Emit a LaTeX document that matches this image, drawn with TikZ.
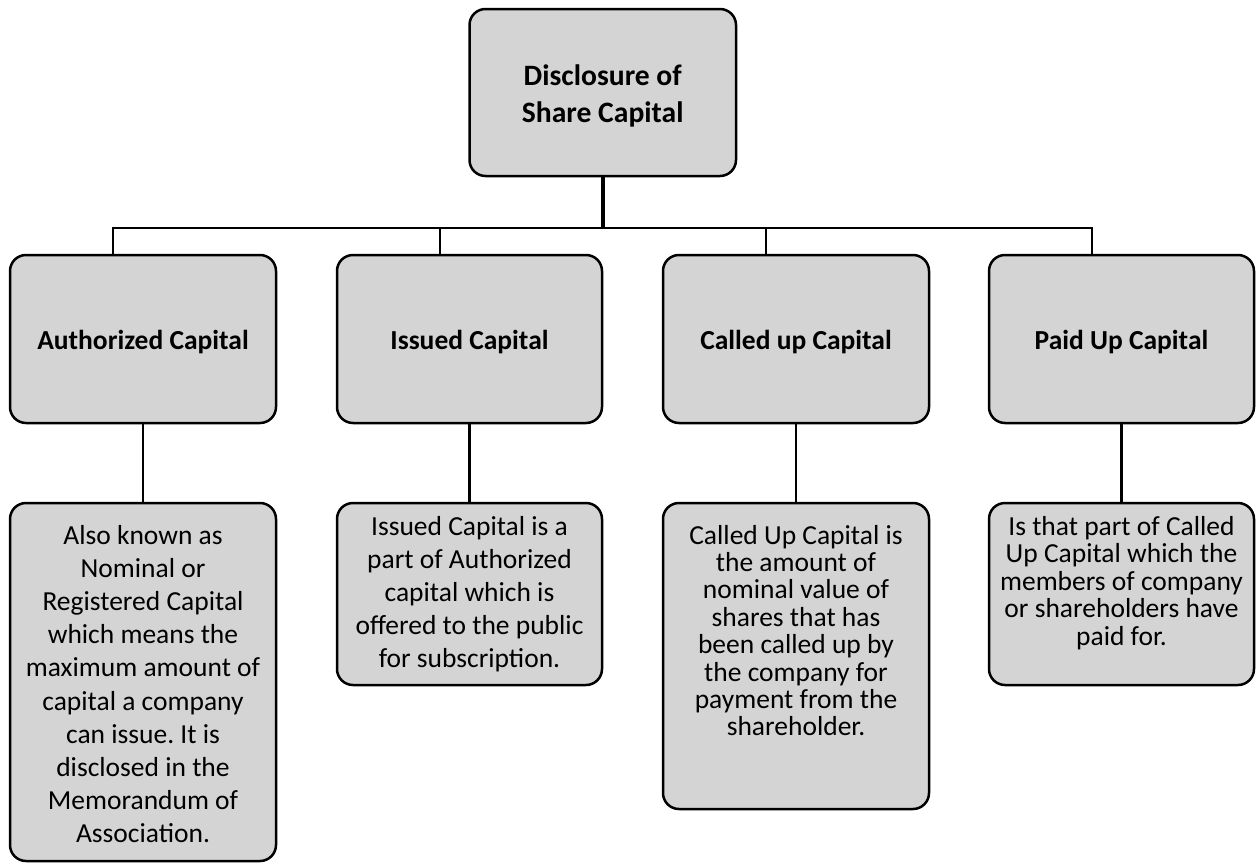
\documentclass[tikz,border=0pt]{standalone}
\usepackage{fontspec}
\setmainfont{Carlito}
\frenchspacing
\definecolor{boxgray}{RGB}{212,212,212}
\tikzset{
  box/.style={draw=black, fill=boxgray, line width=2.5pt, rounded corners=16pt, inner sep=0pt},
  conn/.style={line width=2.5pt, draw=black},
  mainconn/.style={line width=4pt, draw=black},
  ttl/.style={font=\bfseries\fontsize{27.5}{33}\selectfont, align=center, inner sep=0pt},
  toptitle/.style={font=\bfseries\fontsize{29.6}{37}\selectfont, align=center, inner sep=0pt},
  bodytxt/.style={align=center, inner sep=0pt}
}
\begin{document}
\begin{tikzpicture}[x=1pt,y=-1pt]
\useasboundingbox (0,0) rectangle (1256,865);
% boxes
\node[box, minimum width=266.5pt, minimum height=167pt] (top) at (602.75,92.5) {};
\node[box, minimum width=266pt, minimum height=168pt] (A) at (143,339) {};
\node[box, minimum width=265pt, minimum height=168pt] (I) at (469.5,339) {};
\node[box, minimum width=266pt, minimum height=168pt] (C) at (796,339) {};
\node[box, minimum width=265pt, minimum height=168pt] (P) at (1121.5,339) {};
\node[box, minimum width=266pt, minimum height=358pt] (A2) at (143,682) {};
\node[box, minimum width=265pt, minimum height=182pt] (I2) at (469.5,594) {};
\node[box, minimum width=266pt, minimum height=306pt] (C2) at (796,656) {};
\node[box, minimum width=265pt, minimum height=182pt] (P2) at (1121.5,594) {};
% titles
\node[toptitle] (topt) at ([yshift=-3pt]top.center) {Disclosure of\\Share Capital};
\node[ttl] (At) at ([yshift=-3pt]A.center) {Authorized Capital};
\node[ttl] (It) at ([yshift=-3pt]I.center) {Issued Capital};
\node[ttl] (Ct) at ([yshift=-3pt]C.center) {Called up Capital};
\node[ttl] (Pt) at ([yshift=-3pt]P.center) {Paid Up Capital};
% body texts
\node[bodytxt, font=\fontsize{27.5}{33.1}\selectfont] (A2t) at (143,684) {Also known as\\Nominal or\\Registered Capital\\which means the\\maximum amount of\\capital a company\\can issue. It is\\disclosed in the\\Memorandum of\\Association.};
\node[bodytxt, font=\fontsize{27.5}{33}\selectfont] (I2t) at (469.5,594) {Issued Capital is a\\part of Authorized\\capital which is\\offered to the public\\for subscription.};
\node[bodytxt, font=\fontsize{27.5}{27.4}\selectfont] (C2t) at (796,630.5) {Called Up Capital is\\the amount of\\nominal value of\\shares that has\\been called up by\\the company for\\payment from the\\shareholder.};
\node[bodytxt, font=\fontsize{27.5}{27.5}\selectfont] (P2t) at (1121.5,583) {Is that part of Called\\Up Capital which the\\members of company\\or shareholders have\\paid for.};
% connectors
\coordinate (bus) at (602.75,228);
\draw[conn] ([xshift=-30pt]A.north) |- (bus);
\draw[conn] ([xshift=-29.5pt]I.north) |- (bus);
\draw[conn] ([xshift=-30pt]C.north) |- (bus);
\draw[conn] ([xshift=-29.5pt]P.north) |- (bus);
\draw[mainconn] (top.south) -- (bus);
\draw[conn] (A.south) -- (A2.north);
\draw[conn] (I.south) -- (I2.north);
\draw[conn] (C.south) -- (C2.north);
\draw[conn] (P.south) -- (P2.north);
\end{tikzpicture}
\end{document}
